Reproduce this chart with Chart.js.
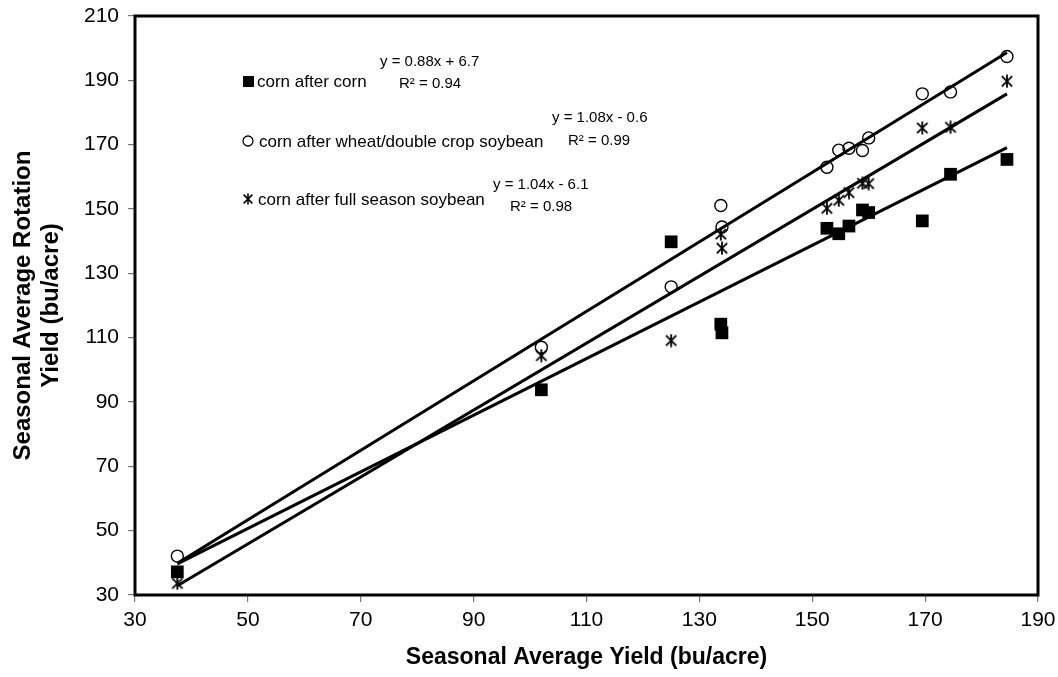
<!DOCTYPE html>
<html>
<head>
<meta charset="utf-8">
<title>Seasonal vs rotation yield</title>
<script src="https://cdn.jsdelivr.net/npm/chart.js@4/dist/chart.umd.min.js"></script>
<style>
  html, body { margin: 0; padding: 0; background: #fff; }
  #wrap { position: relative; width: 1058px; height: 677px; }
</style>
</head>
<body>
<div id="wrap"><canvas id="chart"></canvas></div>
<script>
// x values shared by all three rotations (seasonal average yield, bu/acre)
const seasonalYield = [37.5, 102, 125, 133.8, 134, 152.6, 154.7, 156.5, 158.9, 160, 169.5, 174.5, 184.5];

// rotation yields
const cornAfterCorn  = [37.2, 93.8, 139.8, 114.2, 111.5, 144.0, 142.3, 144.7, 149.7, 148.9, 146.3, 160.8, 165.4];
const cornAfterWheat = [42.1, 107.0, 125.8, 151.1, 144.4, 163.0, 168.3, 168.9, 168.2, 172.1, 185.8, 186.4, 197.4];
const cornAfterSoy   = [33.6, 104.4, 109.1, 142.2, 137.8, 150.2, 152.7, 155.1, 158.0, 157.9, 175.2, 175.4, 189.7];

const seriesNames = ['corn after corn', 'corn after wheat/double crop soybean', 'corn after full season soybean'];
const trendEquations = ['y = 0.88x + 6.7', 'y = 1.08x - 0.6', 'y = 1.04x - 6.1'];
const trendR2 = ['R\u00b2 = 0.94', 'R\u00b2 = 0.99', 'R\u00b2 = 0.98'];
const trendSlope = [0.88, 1.08, 1.04];
const trendIntercept = [6.7, -0.6, -6.1];

const xTicks = [30, 50, 70, 90, 110, 130, 150, 170, 190];
const yTicks = [30, 50, 70, 90, 110, 130, 150, 170, 190, 210];

const FONT = "'Liberation Sans', Arial, Helvetica, sans-serif";

// excel style asterisk marker (X with a vertical stroke)
function makeStar(size, lw) {
    const c = document.createElement('canvas');
    c.width = size; c.height = size;
    const g = c.getContext('2d');
    const m = lw, s = size - lw;
    g.strokeStyle = '#000';
    g.lineWidth = lw;
    g.beginPath();
    g.moveTo(m, m); g.lineTo(s, s);
    g.moveTo(s, m); g.lineTo(m, s);
    g.moveTo(size / 2, 0.5); g.lineTo(size / 2, size - 0.5);
    g.stroke();
    return c;
}
const starMarker = makeStar(14, 1.8);
const starLegend = makeStar(12, 1.6);

function points(ys) {
    return seasonalYield.map((x, i) => ({ x: x, y: ys[i] }));
}

function trendLine(k) {
    const x0 = Math.min(...seasonalYield);
    const x1 = Math.max(...seasonalYield);
    return [
        { x: x0, y: trendSlope[k] * x0 + trendIntercept[k] },
        { x: x1, y: trendSlope[k] * x1 + trendIntercept[k] }
    ];
}

function lineSet(k) {
    return {
        type: 'line',
        data: trendLine(k),
        borderColor: '#000',
        borderWidth: 3,
        pointRadius: 0,
        fill: false
    };
}

// frame, axis titles, legend and equations
const decorations = {
    id: 'decorations',
    afterDraw(chart) {
        const ctx = chart.ctx;
        const a = chart.chartArea;
        const midY = (a.top + a.bottom) / 2;
        ctx.save();

        ctx.strokeStyle = '#000';
        ctx.lineWidth = 3;
        ctx.strokeRect(a.left, a.top, a.right - a.left, a.bottom - a.top);

        ctx.fillStyle = '#000';
        ctx.font = 'bold 23px ' + FONT;
        ctx.textAlign = 'center';
        ctx.textBaseline = 'alphabetic';
        ctx.fillText('Seasonal Average Yield (bu/acre)', (a.left + a.right) / 2, 664);

        ctx.font = 'bold 24px ' + FONT;
        ctx.save();
        ctx.translate(30, midY);
        ctx.rotate(-Math.PI / 2);
        ctx.fillText('Seasonal Average Rotation', 0, 0);
        ctx.restore();
        ctx.save();
        ctx.translate(58, midY);
        ctx.rotate(-Math.PI / 2);
        ctx.fillText('Yield (bu/acre)', 0, 0);
        ctx.restore();

        // legend
        ctx.textAlign = 'left';
        ctx.textBaseline = 'middle';
        ctx.font = '17px ' + FONT;
        ctx.fillRect(243, 76, 11, 11);
        ctx.fillText(seriesNames[0], 257, 82);

        ctx.lineWidth = 1.3;
        ctx.beginPath();
        ctx.arc(248, 141, 5, 0, Math.PI * 2);
        ctx.stroke();
        ctx.fillText(seriesNames[1], 259, 142);

        ctx.drawImage(starLegend, 242, 193);
        ctx.fillText(seriesNames[2], 258, 200);

        // trendline equations
        ctx.font = '15px ' + FONT;
        ctx.fillText(trendEquations[0], 380, 62);
        ctx.fillText(trendR2[0], 399, 84);
        ctx.fillText(trendEquations[1], 552, 118);
        ctx.fillText(trendR2[1], 568, 141);
        ctx.fillText(trendEquations[2], 493, 185);
        ctx.fillText(trendR2[2], 510, 207);

        ctx.restore();
    }
};

new Chart(document.getElementById('chart'), {
    type: 'scatter',
    data: {
        datasets: [
            lineSet(0),
            lineSet(1),
            lineSet(2),
            {
                label: seriesNames[0],
                data: points(cornAfterCorn),
                pointStyle: 'rect',
                pointRadius: 9,
                backgroundColor: '#000',
                borderWidth: 0
            },
            {
                label: seriesNames[1],
                data: points(cornAfterWheat),
                pointStyle: 'circle',
                pointRadius: 6,
                backgroundColor: 'rgba(255,255,255,0)',
                borderColor: '#000',
                borderWidth: 1.4
            },
            {
                label: seriesNames[2],
                data: points(cornAfterSoy),
                pointStyle: starMarker,
                pointRadius: 7
            }
        ]
    },
    options: {
        responsive: true,
        maintainAspectRatio: false,
        animation: false,
        layout: { padding: { left: 0, right: 20, top: 16, bottom: 0 } },
        plugins: {
            legend: { display: false },
            tooltip: { enabled: false }
        },
        scales: {
            x: {
                type: 'linear',
                min: 30,
                max: 190,
                afterBuildTicks(scale) { scale.ticks = xTicks.map(v => ({ value: v })); },
                afterFit(scale) {
                    scale.height = 82;
                    scale.paddingLeft = 0;
                    scale.paddingRight = 0;
                },
                border: { display: false },
                grid: { drawOnChartArea: false, drawTicks: true, tickLength: 7, color: '#777', lineWidth: 1.2 },
                ticks: { color: '#000', padding: 6, font: { family: FONT, size: 21 }, maxRotation: 0 }
            },
            y: {
                type: 'linear',
                min: 30,
                max: 210,
                afterBuildTicks(scale) { scale.ticks = yTicks.map(v => ({ value: v })); },
                afterFit(scale) {
                    scale.width = 135;
                    scale.paddingTop = 0;
                    scale.paddingBottom = 0;
                },
                border: { display: false },
                grid: { drawOnChartArea: false, drawTicks: true, tickLength: 7, color: '#777', lineWidth: 1.2 },
                ticks: { color: '#000', padding: 9, font: { family: FONT, size: 21 } }
            }
        }
    },
    plugins: [decorations]
});
</script>
</body>
</html>
